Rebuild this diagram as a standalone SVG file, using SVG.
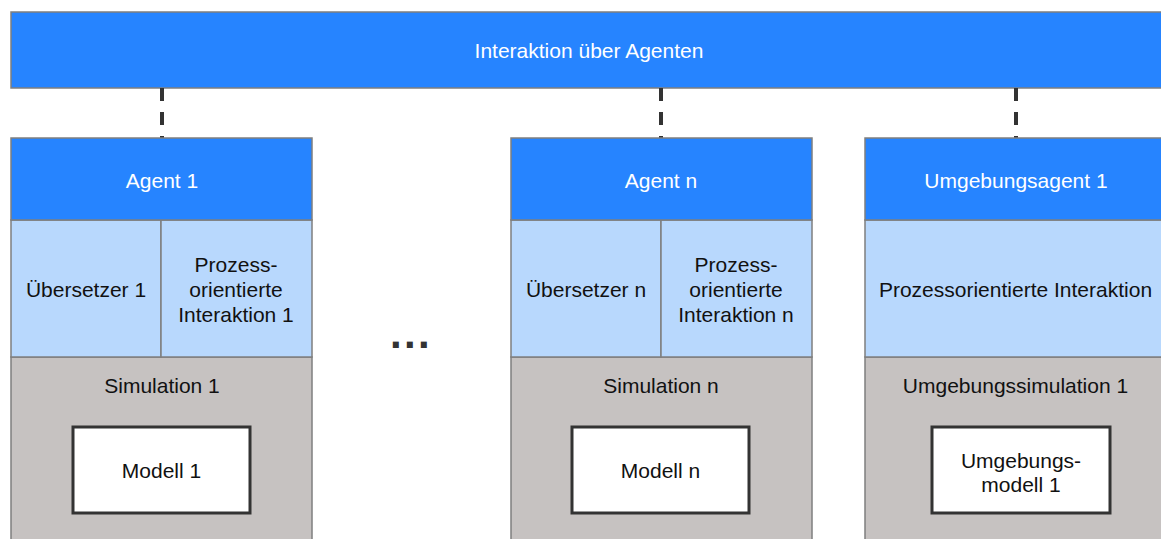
<svg xmlns="http://www.w3.org/2000/svg" width="1161" height="539" viewBox="0 0 1161 539">
  <style>
    text { font-family: "Liberation Sans", Arial, sans-serif; font-size: 21px; text-anchor: middle; }
    .head { fill: #2684FF; stroke: #7F7F7F; stroke-width: 1.5; }
    .layer { fill: #B8D8FD; stroke: #7F7F7F; stroke-width: 1.5; }
    .sim { fill: #C6C2C1; stroke: #7F7F7F; stroke-width: 1.5; }
    .model { fill: #FFFFFF; stroke: #333333; stroke-width: 3; }
    .light { fill: #FFFFFF; }
    .dark { fill: #111111; }
    .link { stroke: #333333; stroke-width: 4; stroke-dasharray: 13 11; fill: none; }
  </style>

  <!-- shared interaction bar -->
  <g id="interaction">
    <rect class="head" x="11" y="12" width="1165" height="76"/>
    <text class="light" x="589" y="58">Interaktion über Agenten</text>
  </g>

  <!-- dashed links between the bar and each agent -->
  <g id="connectors">
    <line class="link" x1="162" y1="88" x2="162" y2="138"/>
    <line class="link" x1="661" y1="88" x2="661" y2="138"/>
    <line class="link" x1="1016" y1="88" x2="1016" y2="138"/>
  </g>

  <!-- agent 1 -->
  <g id="agent1">
    <rect class="sim" x="11" y="357" width="301" height="190"/>
    <rect class="layer" x="11" y="220" width="150" height="137"/>
    <rect class="layer" x="161" y="220" width="151" height="137"/>
    <rect class="head" x="11" y="138" width="301" height="82"/>
    <text class="light" x="162" y="188">Agent 1</text>
    <text class="dark" x="86" y="297">Übersetzer 1</text>
    <text class="dark" x="236" y="272">Prozess-</text>
    <text class="dark" x="236" y="297">orientierte</text>
    <text class="dark" x="236" y="322">Interaktion 1</text>
    <text class="dark" x="162" y="393">Simulation 1</text>
    <rect class="model" x="73" y="427" width="177" height="86"/>
    <text class="dark" x="161.5" y="478">Modell 1</text>
  </g>

  <!-- ellipsis between agents -->
  <g id="ellipsis">
    <text x="390" y="348" style="text-anchor:start;font-size:42px;font-weight:bold;letter-spacing:2.3px" fill="#333333">...</text>
  </g>

  <!-- agent n -->
  <g id="agentn">
    <rect class="sim" x="511" y="357" width="301" height="190"/>
    <rect class="layer" x="511" y="220" width="150" height="137"/>
    <rect class="layer" x="661" y="220" width="151" height="137"/>
    <rect class="head" x="511" y="138" width="301" height="82"/>
    <text class="light" x="661" y="188">Agent n</text>
    <text class="dark" x="586" y="297">Übersetzer n</text>
    <text class="dark" x="736" y="272">Prozess-</text>
    <text class="dark" x="736" y="297">orientierte</text>
    <text class="dark" x="736" y="322">Interaktion n</text>
    <text class="dark" x="661" y="393">Simulation n</text>
    <rect class="model" x="572" y="427" width="177" height="86"/>
    <text class="dark" x="660.5" y="478">Modell n</text>
  </g>

  <!-- environment agent -->
  <g id="envagent">
    <rect class="sim" x="865" y="357" width="302" height="190"/>
    <rect class="layer" x="865" y="220" width="302" height="137"/>
    <rect class="head" x="865" y="138" width="302" height="82"/>
    <text class="light" x="1016" y="188">Umgebungsagent 1</text>
    <text class="dark" x="1015.5" y="297">Prozessorientierte Interaktion</text>
    <text class="dark" x="1015.5" y="393">Umgebungssimulation 1</text>
    <rect class="model" x="932" y="427" width="178" height="86"/>
    <text class="dark" x="1021" y="468">Umgebungs-</text>
    <text class="dark" x="1021" y="492">modell 1</text>
  </g>
</svg>
